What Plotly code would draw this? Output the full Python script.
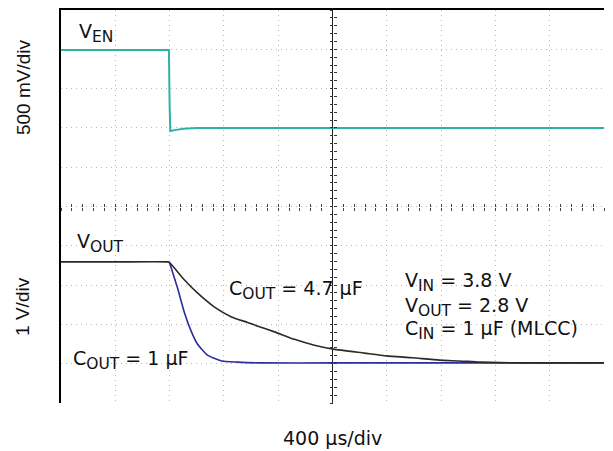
import plotly.graph_objects as go

# time in microseconds (400 us/div, trigger at centre), amplitude in divisions
ven_t = [-2000, -1205, -1200, -1195, -1150, -1100, -1000, -800, 0, 2000]
ven_v = [8.98, 8.98, 7.6, 6.92, 6.95, 6.98, 7.0, 7.0, 7.0, 7.0]

vout47_t = [-2000, -1600, -1215, -1200, -1090, -995, -869, -744, -626, -538, -427, -280,
            -133, 7, 236, 398, 589, 788, 936, 1083, 1378, 2000]
vout47_v = [3.59, 3.59, 3.59, 3.57, 3.13, 2.80, 2.44, 2.19, 2.05, 1.94, 1.81, 1.62,
            1.47, 1.37, 1.27, 1.20, 1.15, 1.09, 1.07, 1.04, 1.02, 1.02]

vout1_t = [-1200, -1142, -1090, -1039, -995, -921, -818, -700, -538, 0, 2000]
vout1_v = [3.57, 2.93, 2.29, 1.81, 1.50, 1.22, 1.07, 1.04, 1.02, 1.02, 1.02]

fig = go.Figure()

# traces are spread over overlaid axes so the centre graticule ticks get drawn
fig.add_trace(go.Scatter(x=ven_t, y=ven_v, mode="lines", xaxis="x2", yaxis="y2",
                         line=dict(color="#2bb3a3", width=2)))
fig.add_trace(go.Scatter(x=vout47_t, y=vout47_v, mode="lines", xaxis="x3", yaxis="y3",
                         line=dict(color="#2a2a2a", width=1.6, shape="spline", smoothing=0.5)))
fig.add_trace(go.Scatter(x=vout1_t, y=vout1_v, mode="lines",
                         line=dict(color="#2c2ca0", width=1.6, shape="spline", smoothing=0.5)))


def sub(s):
    return "<sub><span style='font-size:15.5px'>" + s + "</span></sub>"


lbl = dict(family="DejaVu Sans, Arial", size=19, color="#111")
side = dict(family="Liberation Sans, Arial", size=19, color="#111")

notes = [
    ("V" + sub("EN"), -1880, 9.41),
    ("V" + sub("OUT"), -1900, 4.07),
    ("C" + sub("OUT") + " = 4.7 \u00b5F", -775, 2.87),
    ("C" + sub("OUT") + " = 1 \u00b5F", -1930, 1.09),
    ("V" + sub("IN") + " = 3.8 V", 516, 3.08),
    ("V" + sub("OUT") + " = 2.8 V", 516, 2.44),
    ("C" + sub("IN") + " = 1 \u00b5F (MLCC)", 516, 1.86),
]
for txt, x, y in notes:
    fig.add_annotation(x=x, y=y, text=txt, showarrow=False,
                       xanchor="left", yanchor="middle", font=lbl)

fig.add_annotation(x=-0.07, y=0.804, xref="paper", yref="paper", text="500 mV/div",
                   textangle=-90, showarrow=False, xanchor="center", yanchor="middle",
                   font=side)
fig.add_annotation(x=-0.07, y=0.247, xref="paper", yref="paper", text="1 V/div",
                   textangle=-90, showarrow=False, xanchor="center", yanchor="middle",
                   font=side)
fig.add_annotation(x=0.5, y=-0.089, xref="paper", yref="paper", text="400 \u00b5s/div",
                   showarrow=False, xanchor="center", yanchor="middle", font=lbl)

grid = dict(showgrid=True, gridcolor="#b8b8b8", griddash="1px,4px", gridwidth=1,
            showticklabels=False, ticks="")
tick = dict(showgrid=False, zeroline=False, showline=False, showticklabels=False,
            anchor="free", position=0.5, ticklen=3)
fig.update_layout(
    width=597, height=443,
    margin=dict(l=53, r=1, t=2, b=48),
    paper_bgcolor="white", plot_bgcolor="white",
    showlegend=False,
    xaxis=dict(range=[-2000, 2000], dtick=400, side="top",
               showline=True, linecolor="black", linewidth=2,
               zeroline=True, zerolinecolor="#222", zerolinewidth=1, **grid),
    yaxis=dict(range=[0, 10], dtick=1,
               showline=True, linecolor="black", linewidth=2,
               zeroline=False, **grid),
    # centre graticule tick marks
    xaxis2=dict(range=[-2000, 2000], overlaying="x", ticks="outside", dtick=80,
                tickcolor="#444", **tick),
    xaxis3=dict(range=[-2000, 2000], overlaying="x", ticks="inside", dtick=80,
                tickcolor="#444", **tick),
    yaxis2=dict(range=[0, 10], overlaying="y", ticks="outside", dtick=0.2,
                tickcolor="#333", **tick),
    yaxis3=dict(range=[0, 10], overlaying="y", ticks="inside", dtick=0.2,
                tickcolor="#333", **tick),
)

fig.write_html("out.html")
